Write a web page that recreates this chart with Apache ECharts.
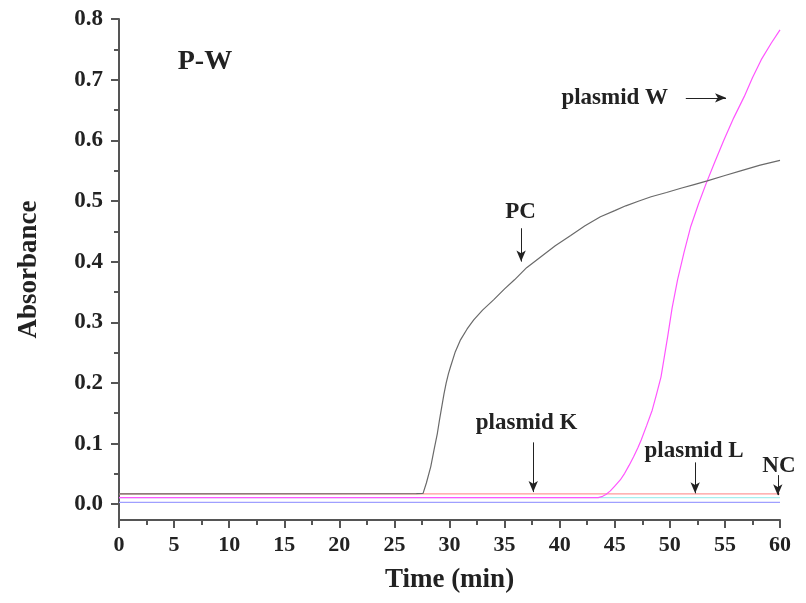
<!DOCTYPE html>
<html>
<head>
<meta charset="utf-8">
<script src="https://cdn.jsdelivr.net/npm/echarts@6/dist/echarts.min.js"></script>
<style>html,body{margin:0;padding:0;background:#fff}#c{width:806px;height:603px}</style>
</head>
<body>
<div id="c"></div>
<script>
// ---- data ----
const pcTime = [0, 27.0, 27.6, 27.9, 28.3, 28.6, 28.9, 29.1, 29.3, 29.5, 29.7, 29.9, 30.1, 30.5, 31, 31.6, 32.2, 33, 34, 35, 35.9, 37, 38.3, 39.6, 41, 42.3, 43.7, 45, 46, 47.2, 48.3, 49.7, 51, 52.2, 53.4, 55, 56.5, 58.2, 60];
const pcAbs  = [0.017, 0.0175, 0.018, 0.035, 0.062, 0.09, 0.117, 0.14, 0.161, 0.182, 0.2, 0.215, 0.227, 0.25, 0.271, 0.289, 0.304, 0.320, 0.337, 0.355, 0.370, 0.390, 0.408, 0.426, 0.443, 0.459, 0.474, 0.484, 0.492, 0.500, 0.507, 0.514, 0.521, 0.527, 0.533, 0.542, 0.550, 0.559, 0.567];
const wTime = [0, 43.5, 43.9, 44.2, 44.6, 45, 45.5, 45.9, 46.3, 46.7, 47.1, 47.4, 47.9, 48.4, 48.8, 49.2, 49.5, 49.8, 50.2, 50.7, 51.3, 51.9, 52.6, 53.3, 54.1, 54.9, 55.8, 56.75, 57.5, 58.3, 59.2, 60];
const wAbs  = [0.011, 0.011, 0.013, 0.016, 0.022, 0.03, 0.04, 0.051, 0.064, 0.078, 0.093, 0.106, 0.13, 0.155, 0.182, 0.21, 0.243, 0.276, 0.323, 0.37, 0.416, 0.458, 0.495, 0.529, 0.565, 0.60, 0.637, 0.672, 0.703, 0.733, 0.760, 0.782];
const kTime = [0, 60];
const kAbs  = [0.017, 0.017];
const lTime = [0, 60];
const lAbs  = [0.011, 0.011];
const ncTime = [0, 60];
const ncAbs  = [0.003, 0.003];
const yMajor = [0, 0.1, 0.2, 0.3, 0.4, 0.5, 0.6, 0.7, 0.8];
const yMinor = [0.05, 0.15, 0.25, 0.35, 0.45, 0.55, 0.65, 0.75];
// annotations: [label, textX, textY, arrowFromX, arrowFromY, arrowToX, arrowToY]
const notes = [
  ['PC', 36.45, 0.482, 36.5, 0.455, 36.5, 0.40],
  ['plasmid W', 45.0, 0.67, 51.45, 0.67, 55.1, 0.67],
  ['plasmid K', 37.0, 0.134, 37.6, 0.102, 37.6, 0.02],
  ['plasmid L', 52.2, 0.087, 52.3, 0.069, 52.3, 0.018],
  ['NC', 59.9, 0.063, 59.8, 0.048, 59.8, 0.015]
];
const panelTitle = ['P-W', 7.8, 0.729];

const zip = (a, b) => a.map((v, i) => [v, b[i]]);
const FONT = '"Liberation Serif", "DejaVu Serif", serif';
const axisCol = '#555';

const chart = echarts.init(document.getElementById('c'), null, {renderer: 'canvas'});
const lineSeries = (name, t, v, color, w, z) => ({
  name, type: 'line', data: zip(t, v), showSymbol: false, symbol: 'none',
  smooth: false, z: z,
  lineStyle: {color, width: w}, silent: true, animation: false
});

const pcSeries = lineSeries('PC', pcTime, pcAbs, '#6a6a6a', 1.2, 5);
pcSeries.markPoint = {
  silent: true, animation: false, symbol: 'circle', symbolSize: 0,
  data: notes.map(n => ({coord: [n[1], n[2]], value: n[0]})).concat([{
    coord: [panelTitle[1], panelTitle[2]], value: panelTitle[0], label: {fontSize: 28}
  }]),
  label: {show: true, position: 'inside', formatter: p => p.value, fontFamily: FONT, fontWeight: 'bold', fontSize: 23, color: '#222'}
};
pcSeries.markLine = {
  silent: true, animation: false, symbol: ['none', 'arrow'], symbolSize: [7, 11],
  label: {show: false},
  lineStyle: {color: '#222', width: 1, type: 'solid'},
  data: notes.map(n => [{coord: [n[3], n[4]]}, {coord: [n[5], n[6]]}])
};

const option = {
  animation: false,
  backgroundColor: '#fff',
  grid: {left: 119, right: 26, top: 19, bottom: 83},
  xAxis: {
    type: 'value', min: 0, max: 60, interval: 5,
    name: 'Time (min)', nameLocation: 'middle', nameGap: 47,
    nameTextStyle: {fontFamily: FONT, fontWeight: 'bold', fontSize: 27, color: '#222'},
    axisLine: {show: true, onZero: false, lineStyle: {color: axisCol, width: 2}},
    axisTick: {show: true, inside: false, length: 8, lineStyle: {color: axisCol, width: 2}},
    minorTick: {show: true, splitNumber: 2, length: 5, lineStyle: {color: axisCol, width: 2}},
    splitLine: {show: false}, minorSplitLine: {show: false},
    axisLabel: {fontFamily: FONT, fontWeight: 'bold', fontSize: 22, color: '#222', margin: 14}
  },
  yAxis: [{
    type: 'value', min: -0.026, max: 0.8, position: 'left',
    name: 'Absorbance', nameLocation: 'middle', nameGap: 76, nameRotate: 90,
    nameTextStyle: {fontFamily: FONT, fontWeight: 'bold', fontSize: 27, color: '#222'},
    axisLine: {show: true, onZero: false, lineStyle: {color: axisCol, width: 2}},
    axisTick: {show: true, inside: false, length: 8, customValues: yMajor, lineStyle: {color: axisCol, width: 2}},
    splitLine: {show: false},
    axisLabel: {customValues: yMajor, formatter: v => v.toFixed(1), fontFamily: FONT, fontWeight: 'bold', fontSize: 23, color: '#222', margin: 16}
  }, {
    type: 'value', min: -0.026, max: 0.8, position: 'left', offset: 0,
    axisLine: {show: false},
    axisTick: {show: true, inside: false, length: 5, customValues: yMinor, lineStyle: {color: axisCol, width: 2}},
    axisLabel: {show: false}, splitLine: {show: false}
  }],
  series: [
    lineSeries('NC', ncTime, ncAbs, '#9f9fff', 1.2, 1),
    lineSeries('plasmid L', lTime, lAbs, '#a8eeee', 1.2, 1),
    lineSeries('plasmid K', kTime, kAbs, '#ff9a9a', 1.2, 2),
    pcSeries,
    lineSeries('plasmid W', wTime, wAbs, '#ff55ff', 1.2, 4)
  ]
};
chart.setOption(option);
</script>
</body>
</html>
